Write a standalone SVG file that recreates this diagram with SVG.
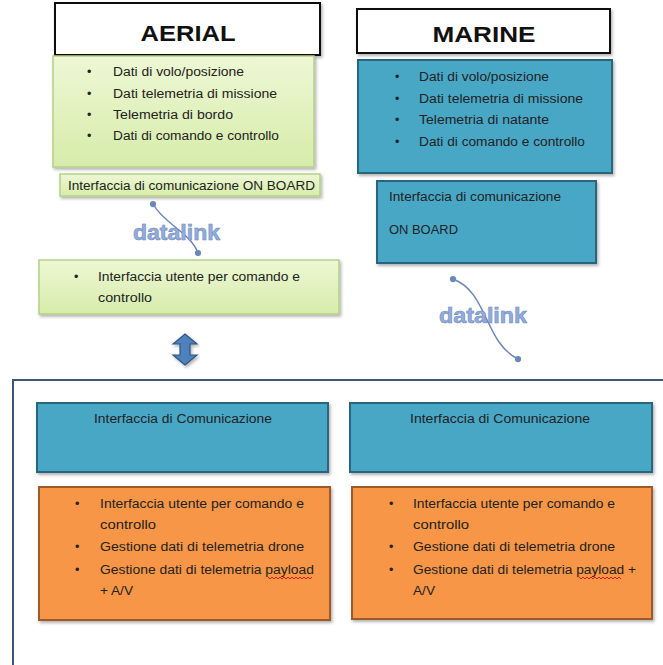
<svg xmlns="http://www.w3.org/2000/svg" width="663" height="665" viewBox="0 0 663 665">
  <defs>
    <linearGradient id="greenFill" x1="0" y1="0" x2="0" y2="1">
      <stop offset="0" stop-color="#eef7d4"/>
      <stop offset="1" stop-color="#d6ecaa"/>
    </linearGradient>
    <filter id="shadow" x="-5%" y="-5%" width="115%" height="125%">
      <feDropShadow dx="1.5" dy="2" stdDeviation="1.5" flood-color="#000" flood-opacity="0.3"/>
    </filter>
    <marker id="dot" viewBox="0 0 6 6" refX="3" refY="3" markerWidth="5" markerHeight="5">
      <circle cx="3" cy="3" r="2.5" fill="#6c86b8"/>
    </marker>
  </defs>
  <style>
    .title { fill: #fff; stroke: #111; stroke-width: 2; }
    .titleText { font-family: "Liberation Sans", Arial, sans-serif; font-size: 22px; font-weight: bold; fill: #111; text-anchor: middle; }
    .green { fill: url(#greenFill); stroke: #b7cf86; stroke-width: 1.5; }
    .blue { fill: #4aa7c6; stroke: #2c6580; stroke-width: 2; }
    .orange { fill: #f79646; stroke: #9c5a2a; stroke-width: 2; }
    .t { font-family: "Liberation Sans", Arial, sans-serif; font-size: 12.5px; fill: #222; }
    .dl { font-family: "Liberation Sans", Arial, sans-serif; font-size: 22px; font-weight: bold; fill: #93acd9; stroke: #6f8cc2; stroke-width: 0.6; }
    .arc { fill: none; stroke: #6c86b8; stroke-width: 1.5; }
    .frame { fill: none; stroke: #3c5675; stroke-width: 2; }
    .spell { fill: none; stroke: #d02020; stroke-width: 1; }
  </style>

  <!-- AERIAL column -->
  <g id="aerial-title">
    <rect class="title" x="55" y="3" width="265" height="52" filter="url(#shadow)"/>
    <text class="titleText" x="188" y="41" textLength="95" lengthAdjust="spacingAndGlyphs">AERIAL</text>
  </g>
  <g id="aerial-data">
    <rect class="green" x="53" y="56" width="261" height="111" filter="url(#shadow)"/>
    <g class="t">
      <text x="87" y="76">•</text><text x="113" y="76" textLength="131" lengthAdjust="spacingAndGlyphs">Dati di volo/posizione</text>
      <text x="87" y="98">•</text><text x="113" y="98" textLength="164" lengthAdjust="spacingAndGlyphs">Dati telemetria di missione</text>
      <text x="87" y="119">•</text><text x="113" y="119" textLength="120" lengthAdjust="spacingAndGlyphs">Telemetria di bordo</text>
      <text x="87" y="140">•</text><text x="113" y="140" textLength="166" lengthAdjust="spacingAndGlyphs">Dati di comando e controllo</text>
    </g>
  </g>
  <g id="aerial-onboard">
    <rect class="green" x="60" y="174" width="260" height="22" filter="url(#shadow)"/>
    <text class="t" x="68" y="190" textLength="247" lengthAdjust="spacingAndGlyphs">Interfaccia di comunicazione ON BOARD</text>
  </g>
  <g id="aerial-user">
    <rect class="green" x="39" y="260" width="300" height="54" filter="url(#shadow)"/>
    <g class="t">
      <text x="74" y="281">•</text><text x="98" y="281" textLength="202" lengthAdjust="spacingAndGlyphs">Interfaccia utente per comando e</text>
      <text x="98" y="302" textLength="54" lengthAdjust="spacingAndGlyphs">controllo</text>
    </g>
  </g>

  <!-- MARINE column -->
  <g id="marine-title">
    <rect class="title" x="357" y="9" width="253" height="44" filter="url(#shadow)"/>
    <text class="titleText" x="484" y="42" textLength="103" lengthAdjust="spacingAndGlyphs">MARINE</text>
  </g>
  <g id="marine-data">
    <rect class="blue" x="358" y="60" width="254" height="113" filter="url(#shadow)"/>
    <g class="t">
      <text x="395" y="81">•</text><text x="419" y="81" textLength="130" lengthAdjust="spacingAndGlyphs">Dati di volo/posizione</text>
      <text x="395" y="103">•</text><text x="419" y="103" textLength="164" lengthAdjust="spacingAndGlyphs">Dati telemetria di missione</text>
      <text x="395" y="124">•</text><text x="419" y="124" textLength="130" lengthAdjust="spacingAndGlyphs">Telemetria di natante</text>
      <text x="395" y="146">•</text><text x="419" y="146" textLength="166" lengthAdjust="spacingAndGlyphs">Dati di comando e controllo</text>
    </g>
  </g>
  <g id="marine-onboard">
    <rect class="blue" x="377" y="181" width="219" height="82" filter="url(#shadow)"/>
    <text class="t" x="389" y="201" textLength="172" lengthAdjust="spacingAndGlyphs">Interfaccia di comunicazione</text>
    <text class="t" x="389" y="234" textLength="69" lengthAdjust="spacingAndGlyphs">ON BOARD</text>
  </g>

  <!-- Ground station frame -->
  <path class="frame" d="M663,380 H13 V665"/>

  <g id="ground-comm-left">
    <rect class="blue" x="37" y="403" width="291" height="69" filter="url(#shadow)"/>
    <text class="t" x="183" y="423" text-anchor="middle" textLength="178" lengthAdjust="spacingAndGlyphs">Interfaccia di Comunicazione</text>
  </g>
  <g id="ground-ops-left">
    <rect class="orange" x="39" y="487" width="291" height="133" filter="url(#shadow)"/>
    <g class="t">
      <text x="75" y="508">•</text><text x="100" y="508" textLength="204" lengthAdjust="spacingAndGlyphs">Interfaccia utente per comando e</text>
      <text x="100" y="529" textLength="56" lengthAdjust="spacingAndGlyphs">controllo</text>
      <text x="75" y="551">•</text><text x="100" y="551" textLength="204" lengthAdjust="spacingAndGlyphs">Gestione dati di telemetria drone</text>
      <text x="75" y="574">•</text><text x="100" y="574" textLength="214" lengthAdjust="spacingAndGlyphs">Gestione dati di telemetria payload</text>
      <text x="100" y="595" textLength="33" lengthAdjust="spacingAndGlyphs">+ A/V</text>
    </g>
    <path class="spell" d="M268,577 l2,2 l2,-2 l2,2 l2,-2 l2,2 l2,-2 l2,2 l2,-2 l2,2 l2,-2 l2,2 l2,-2 l2,2 l2,-2 l2,2 l2,-2 l2,2 l2,-2 l2,2 l2,-2 l2,2 l2,-2"/>
  </g>

  <g id="ground-comm-right">
    <rect class="blue" x="350" y="403" width="302" height="69" filter="url(#shadow)"/>
    <text class="t" x="500" y="423" text-anchor="middle" textLength="180" lengthAdjust="spacingAndGlyphs">Interfaccia di  Comunicazione</text>
  </g>
  <g id="ground-ops-right">
    <rect class="orange" x="352" y="487" width="300" height="132" filter="url(#shadow)"/>
    <g class="t">
      <text x="389" y="508">•</text><text x="413" y="508" textLength="202" lengthAdjust="spacingAndGlyphs">Interfaccia utente per comando e</text>
      <text x="413" y="529" textLength="56" lengthAdjust="spacingAndGlyphs">controllo</text>
      <text x="389" y="551">•</text><text x="413" y="551" textLength="202" lengthAdjust="spacingAndGlyphs">Gestione dati di telemetria drone</text>
      <text x="389" y="574">•</text><text x="413" y="574" textLength="223" lengthAdjust="spacingAndGlyphs">Gestione dati di telemetria payload +</text>
      <text x="413" y="595" textLength="22" lengthAdjust="spacingAndGlyphs">A/V</text>
    </g>
    <path class="spell" d="M579,577 l2,2 l2,-2 l2,2 l2,-2 l2,2 l2,-2 l2,2 l2,-2 l2,2 l2,-2 l2,2 l2,-2 l2,2 l2,-2 l2,2 l2,-2 l2,2 l2,-2 l2,2 l2,-2 l2,2"/>
  </g>

  <!-- Connectors -->
  <g id="connectors">
    <path class="arc" d="M153,204 C164,224 190,232 198,253" marker-start="url(#dot)" marker-end="url(#dot)"/>
    <text class="dl" x="133" y="240" textLength="87" lengthAdjust="spacingAndGlyphs">datalink</text>
    <path class="arc" d="M453,279 C488,292 484,342 518,359" marker-start="url(#dot)" marker-end="url(#dot)"/>
    <text class="dl" x="439" y="323" textLength="88" lengthAdjust="spacingAndGlyphs">datalink</text>
    <polygon points="185,334 197,344 190,344 190,355 197,355 185,365 173,355 180,355 180,344 173,344" fill="#4f81bd" stroke="#2f5587" stroke-width="1.2" filter="url(#shadow)"/>
  </g>
</svg>
